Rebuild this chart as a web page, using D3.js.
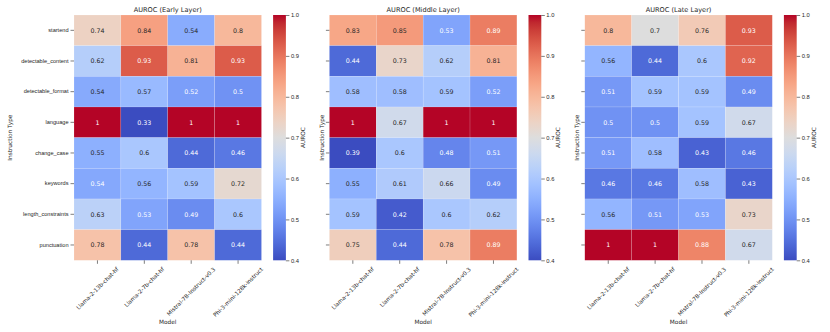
<!DOCTYPE html>
<html>
<head>
<meta charset="utf-8">
<script src="https://cdn.jsdelivr.net/npm/d3@7/dist/d3.min.js"></script>
<style>
  body { margin: 0; background: #fff; }
  svg { font-family: "DejaVu Sans", sans-serif; display: block; }
</style>
</head>
<body>
<div class="container"></div>
<script>
var width = 830,
    height = 332;

var models = ['Llama-2-13b-chat-hf', 'Llama-2-7b-chat-hf', 'Mistral-7B-Instruct-v0.3', 'Phi-3-mini-128k-instruct'];
var instructions = ['startend', 'detectable_content', 'detectable_format', 'language',
    'change_case', 'keywords', 'length_constraints', 'punctuation'];
var layers = ['AUROC (Early Layer)', 'AUROC (Middle Layer)', 'AUROC (Late Layer)'];
var colorTicks = [0.4, 0.5, 0.6, 0.7, 0.8, 0.9, 1.0];

// rows = instructions, columns = models
var earlyLayer = [
    [0.74, 0.84, 0.543, 0.80],
    [0.62, 0.93, 0.81, 0.93],
    [0.54, 0.57, 0.52, 0.50],
    [1.00, 0.33, 1.00, 1.00],
    [0.55, 0.60, 0.44, 0.46],
    [0.537, 0.56, 0.59, 0.72],
    [0.63, 0.53, 0.49, 0.60],
    [0.78, 0.44, 0.78, 0.44]
];
var middleLayer = [
    [0.83, 0.85, 0.53, 0.89],
    [0.44, 0.73, 0.62, 0.81],
    [0.58, 0.58, 0.59, 0.52],
    [1.00, 0.67, 1.00, 1.00],
    [0.39, 0.60, 0.48, 0.51],
    [0.55, 0.61, 0.66, 0.49],
    [0.59, 0.42, 0.60, 0.62],
    [0.75, 0.44, 0.78, 0.89]
];
var lateLayer = [
    [0.80, 0.70, 0.76, 0.93],
    [0.56, 0.44, 0.60, 0.92],
    [0.51, 0.59, 0.59, 0.49],
    [0.50, 0.50, 0.59, 0.67],
    [0.51, 0.58, 0.43, 0.46],
    [0.46, 0.46, 0.58, 0.43],
    [0.56, 0.51, 0.53, 0.73],
    [1.00, 1.00, 0.88, 0.67]
];
var layerData = [earlyLayer, middleLayer, lateLayer];

// matplotlib coolwarm (Moreland) stops
var coolwarmStops = [
    [59,76,192],[68,90,204],[77,104,215],[87,117,225],[98,130,234],[108,142,241],
    [119,154,247],[130,165,251],[141,176,254],[152,185,255],[163,194,255],[174,201,253],
    [184,208,249],[194,213,244],[204,217,238],[213,219,230],[221,221,221],[229,216,209],
    [236,211,197],[241,204,184],[245,196,172],[247,187,159],[247,177,147],[247,166,134],
    [244,154,123],[241,141,111],[236,127,99],[229,112,89],[222,96,77],[213,80,66],
    [203,62,56],[192,40,47],[180,4,38]
].map(function(c) { return d3.rgb(c[0], c[1], c[2]).toString(); });
var coolwarm = d3.piecewise(d3.interpolateRgb, coolwarmStops);
var vmin = 0.4, vmax = 1.0;
var color = d3.scaleSequential(coolwarm).domain([vmin, vmax]).clamp(true);

var fmt = d3.format('.2~g');

var luminance = (c) => {
    var rgb = d3.rgb(c);
    var lin = [rgb.r, rgb.g, rgb.b].map((v) => {
        v /= 255;
        return v <= 0.03928 ? v / 12.92 : Math.pow((v + 0.055) / 1.055, 2.4);
    });
    return 0.2126 * lin[0] + 0.7152 * lin[1] + 0.0722 * lin[2];
}

var svg = d3.select('.container').append('svg')
    .attr('width', width)
    .attr('height', height);

var defs = svg.append('defs');
var grad = defs.append('linearGradient')
    .attr('id', 'cbar')
    .attr('x1', 0).attr('y1', 1).attr('x2', 0).attr('y2', 0);
d3.range(0, 1.0001, 1 / 32).forEach((t) => {
    grad.append('stop')
        .attr('offset', t)
        .attr('stop-color', coolwarm(t));
});

var hmLeft = [74, 329.4, 584.8],
    hmWidth = 187.5,
    hmTop = 15,
    hmHeight = 245.3,
    cbGap = 11.6,
    cbWidth = 12.8;

var drawPanel = (i) => {
    var data = layerData[i];
    var g = svg.append('g').attr('transform', 'translate(' + hmLeft[i] + ',' + hmTop + ')');

    var x = d3.scaleBand().domain(models).range([0, hmWidth]);
    var y = d3.scaleBand().domain(instructions).range([0, hmHeight]);

    var cells = [];
    data.forEach((row, r) => row.forEach((v, c) => cells.push({ r: instructions[r], c: models[c], v: v })));

    g.selectAll('rect.cell')
        .data(cells)
        .enter().append('rect')
        .attr('class', 'cell')
        .attr('x', (d) => x(d.c))
        .attr('y', (d) => y(d.r))
        .attr('width', x.bandwidth())
        .attr('height', y.bandwidth())
        .style('fill', (d) => color(d.v))
        .style('stroke', '#fff')
        .style('stroke-width', 0.4)
        .style('stroke-opacity', 0.35);

    g.selectAll('text.annot')
        .data(cells)
        .enter().append('text')
        .attr('class', 'annot')
        .attr('x', (d) => x(d.c) + x.bandwidth() / 2)
        .attr('y', (d) => y(d.r) + y.bandwidth() / 2)
        .attr('text-anchor', 'middle')
        .attr('dy', '0.35em')
        .style('font-size', '6.3px')
        .style('fill', (d) => luminance(color(d.v)) > 0.408 ? '#262626' : '#ffffff')
        .text((d) => fmt(d.v));

    // y axis
    var yAxis = g.append('g')
        .call(d3.axisLeft(y).tickSize(3.5).tickPadding(2).tickFormat(i === 0 ? null : ''));
    yAxis.select('.domain').remove();
    yAxis.selectAll('line').style('stroke', '#262626').style('stroke-width', 0.6);
    yAxis.selectAll('text').style('font-size', '5.6px').style('fill', '#262626');

    // x axis
    var xAxis = g.append('g')
        .attr('transform', 'translate(0,' + hmHeight + ')')
        .call(d3.axisBottom(x).tickSize(3.5).tickFormat(''));
    xAxis.select('.domain').remove();
    xAxis.selectAll('line').style('stroke', '#262626').style('stroke-width', 0.6);

    var y0 = hmHeight + 6;
    models.forEach((m) => {
        var t = g.append('text')
            .attr('text-anchor', 'middle')
            .attr('dy', '0.35em')
            .style('font-size', '5.6px')
            .style('fill', '#262626')
            .text(m);
        var L = t.node().getComputedTextLength();
        var h = 5.6;
        var cy = y0 + (L + h) * Math.SQRT1_2 / 2;
        t.attr('transform', 'translate(' + (x(m) + x.bandwidth() / 2) + ',' + cy + ') rotate(-45)');
    });

    g.append('text')
        .attr('x', hmWidth / 2)
        .attr('y', 324 - hmTop)
        .attr('text-anchor', 'middle')
        .style('font-size', '5.8px')
        .style('fill', '#262626')
        .text('Model');

    var ylx = i === 0 ? -62 : -5.5;
    g.append('text')
        .attr('transform', 'translate(' + ylx + ',' + (hmHeight / 2) + ') rotate(-90)')
        .attr('text-anchor', 'middle')
        .style('font-size', '5.8px')
        .style('fill', '#262626')
        .text('Instruction Type');

    g.append('text')
        .attr('x', hmWidth / 2)
        .attr('y', -3.5)
        .attr('text-anchor', 'middle')
        .style('font-size', '6.6px')
        .style('fill', '#262626')
        .text(layers[i]);

    // colorbar
    var cb = g.append('g').attr('transform', 'translate(' + (hmWidth + cbGap) + ',0)');
    cb.append('rect')
        .attr('width', cbWidth)
        .attr('height', hmHeight)
        .style('fill', 'url(#cbar)');
    var cbScale = d3.scaleLinear().domain([vmin, vmax]).range([hmHeight, 0]);
    var cbAxis = cb.append('g')
        .attr('transform', 'translate(' + cbWidth + ',0)')
        .call(d3.axisRight(cbScale).tickValues(colorTicks).tickFormat(d3.format('.1f')).tickSize(3.5).tickPadding(1.5));
    cbAxis.select('.domain').remove();
    cbAxis.selectAll('line').style('stroke', '#262626').style('stroke-width', 0.6);
    cbAxis.selectAll('text').style('font-size', '5.8px').style('fill', '#262626');
    cb.append('text')
        .attr('transform', 'translate(' + (cbWidth + 19) + ',' + (hmHeight / 2) + ') rotate(-90)')
        .attr('text-anchor', 'middle')
        .style('font-size', '5.8px')
        .style('fill', '#262626')
        .text('AUROC');
}

window.onload = () => {
    layers.forEach((_, i) => drawPanel(i));
}
</script>
</body>
</html>
